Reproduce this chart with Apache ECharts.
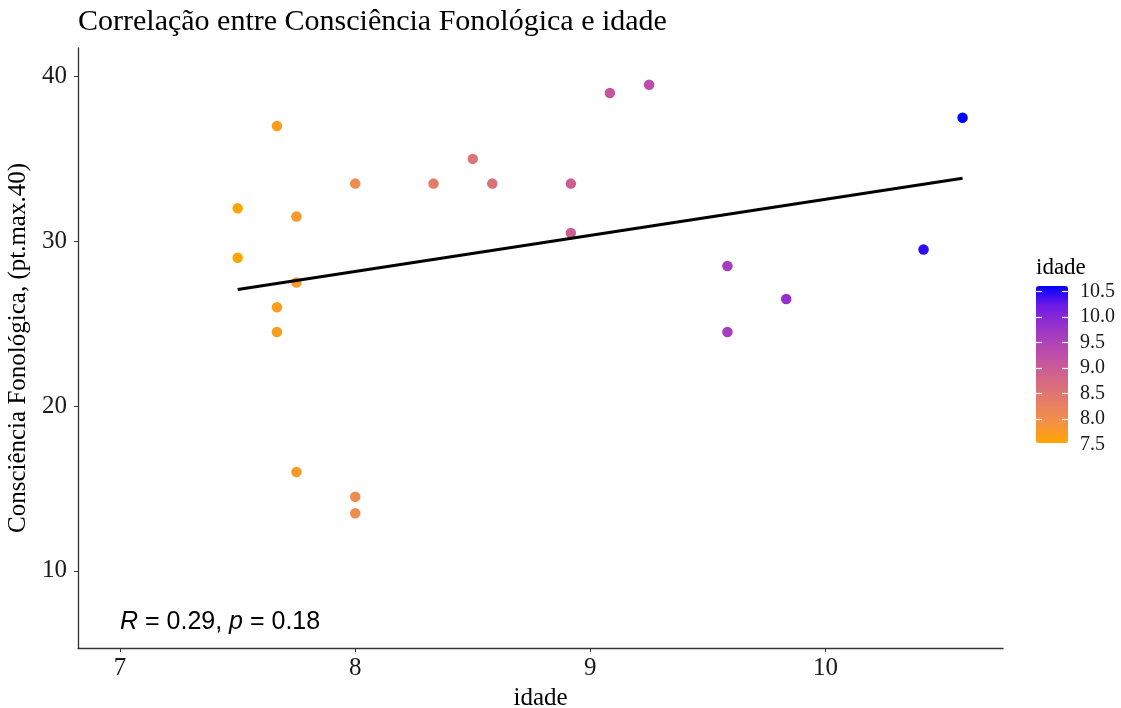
<!DOCTYPE html>
<html>
<head>
<meta charset="utf-8">
<script src="https://cdn.jsdelivr.net/npm/echarts@6/dist/echarts.min.js"></script>
<style>html,body{margin:0;padding:0;background:#fff}#c{width:1121px;height:708px}</style>
</head>
<body>
<div id="c"></div>
<script>
// ---- data ----
const idade = [7.5, 7.5, 7.667, 7.667, 7.667, 7.75, 7.75, 7.75, 8, 8, 8, 8.333, 8.5, 8.583, 8.917, 8.917, 9.083, 9.25, 9.583, 9.583, 9.833, 10.417, 10.583];
const consciencia = [32, 29, 37, 26, 24.5, 31.5, 27.5, 16, 33.5, 14.5, 13.5, 33.5, 35, 33.5, 33.5, 30.5, 39, 39.5, 28.5, 24.5, 26.5, 29.5, 37.5];
const xTicks = [7, 8, 9, 10];
const yTicks = [10, 20, 30, 40];
const legendLabels = [7.5, 8.0, 8.5, 9.0, 9.5, 10.0, 10.5];
const legendTicks = [8.0, 8.5, 9.0, 9.5, 10.0, 10.5];
const gradientColors = ['#FFA500', '#F49244', '#E77F64', '#D86C80', '#C7589A', '#B245B4', '#9731CD', '#6F1BE6', '#0000FF'];
const titleText = 'Correlação entre Consciência Fonológica e idade';
const xName = 'idade';
const yName = 'Consciência Fonológica, (pt.max.40)';
const statText = '{i|R} = 0.29, {i|p} = 0.18';

// ---- build ----
const points = idade.map((x, i) => [x, consciencia[i]]);
const n = idade.length;
const mx = idade.reduce((a, b) => a + b, 0) / n;
const my = consciencia.reduce((a, b) => a + b, 0) / n;
let sxy = 0, sxx = 0;
for (let i = 0; i < n; i++) { sxy += (idade[i] - mx) * (consciencia[i] - my); sxx += (idade[i] - mx) ** 2; }
const slope = sxy / sxx, icpt = my - slope * mx;
const xMin = Math.min(...idade), xMax = Math.max(...idade);
const fitLine = [[xMin, icpt + slope * xMin], [xMax, icpt + slope * xMax]];

const serif = 'Liberation Serif';
const legendTickAxis = (offset) => ({
  type: 'value', gridIndex: 1, position: 'left', offset: offset, min: 7.5, max: xMax, zlevel: 1, z: 10,
  axisLine: {show: false},
  axisTick: {show: true, inside: true, length: 6, lineStyle: {color: '#fff', width: 1.2}, customValues: legendTicks},
  axisLabel: {show: false},
  splitLine: {show: false}
});
const chart = echarts.init(document.getElementById('c'), null, {renderer: 'canvas'});
chart.setOption({
  backgroundColor: '#fff',
  animation: false,
  title: [
    {text: titleText, left: 78, top: 7, padding: 0,
     textStyle: {fontFamily: serif, fontSize: 30, fontWeight: 'normal', color: '#000'}},
    {text: statText, left: 120, top: 610, padding: 0,
     textStyle: {fontFamily: 'Liberation Sans', fontSize: 25, fontWeight: 'normal', color: '#000',
       rich: {i: {fontFamily: 'Liberation Sans', fontSize: 25, fontStyle: 'italic', color: '#000'}}}},
    {text: 'idade', left: 1036, top: 256, padding: 0,
     textStyle: {fontFamily: serif, fontSize: 23, fontWeight: 'normal', color: '#000'}}
  ],
  grid: [
    {left: 78, right: 118, top: 48, bottom: 60, outerBoundsMode: 'none', containLabel: false},
    {left: 1036, width: 32, top: 287.5, height: 157, outerBoundsMode: 'none', containLabel: false}
  ],
  xAxis: [
    {type: 'value', gridIndex: 0, min: 6.821, max: 10.755,
     name: xName, nameLocation: 'middle', nameGap: 37,
     nameTextStyle: {fontFamily: serif, fontSize: 25, color: '#000'},
     axisLine: {show: true, lineStyle: {color: '#333', width: 1.3}},
     axisTick: {show: true, length: 4, lineStyle: {color: '#333'}, customValues: xTicks},
     axisLabel: {fontFamily: serif, fontSize: 25, color: '#1a1a1a', margin: 8, customValues: xTicks},
     splitLine: {show: false}},
    {type: 'value', gridIndex: 1, show: false}
  ],
  yAxis: [
    {type: 'value', gridIndex: 0, min: 5.32, max: 41.73,
     name: yName, nameLocation: 'middle', nameGap: 43,
     nameTextStyle: {fontFamily: serif, fontSize: 25, color: '#000'},
     axisLine: {show: true, lineStyle: {color: '#333', width: 1.3}},
     axisTick: {show: true, length: 4, lineStyle: {color: '#333'}, customValues: yTicks},
     axisLabel: {fontFamily: serif, fontSize: 25, color: '#1a1a1a', margin: 11, customValues: yTicks},
     splitLine: {show: false}},
    {type: 'value', gridIndex: 1, position: 'right', min: 7.5, max: xMax, zlevel: 1, z: 10,
     axisLine: {show: false},
     axisTick: {show: false},
     axisLabel: {fontFamily: serif, fontSize: 20, color: '#1a1a1a', margin: 12, customValues: legendLabels,
       formatter: v => v.toFixed(1)},
     splitLine: {show: false}},
    legendTickAxis(0),
    legendTickAxis(-26)
  ],
  visualMap: {
    type: 'continuous', min: 7.5, max: xMax, dimension: 0, seriesIndex: 0,
    calculable: false, left: 1036, top: 286, padding: 0,
    itemWidth: 32, itemHeight: 157, text: null, showLabel: false,
    inRange: {color: gradientColors}, z: 1
  },
  series: [
    {type: 'scatter', xAxisIndex: 0, yAxisIndex: 0, data: points, symbolSize: 10.5,
     itemStyle: {opacity: 1}, z: 2},
    {type: 'line', xAxisIndex: 0, yAxisIndex: 0, data: fitLine, symbol: 'none',
     lineStyle: {color: '#000', width: 3}, z: 3}
  ]
});
</script>
</body>
</html>
